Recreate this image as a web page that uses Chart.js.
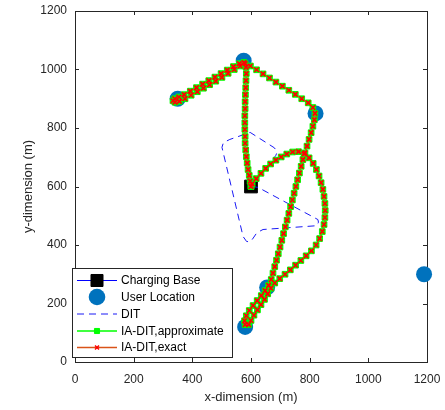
<!DOCTYPE html>
<html>
<head>
<meta charset="utf-8">
<script src="https://cdn.jsdelivr.net/npm/chart.js@4.4.1/dist/chart.umd.min.js"></script>
<style>
  body { margin: 0; background: #fff; }
  #wrap { width: 445px; height: 410px; }
</style>
</head>
<body>
<div id="wrap"><canvas id="trajChart" width="445" height="410"></canvas></div>
<script>
// axis ticks (both axes)
const tickValues = [0, 200, 400, 600, 800, 1000, 1200];

// charging base
const baseX = [600];
const baseY = [600];

// user locations
const userX = [575, 350, 820, 655, 580, 1190];
const userY = [1030, 900, 850, 255, 120, 300];

// DIT trajectory (dashed)
const ditX = [600, 624, 828, 830, 825, 641, 620, 605, 597, 585, 573, 501, 506, 528, 597, 680, 689, 684, 665, 600];
const ditY = [600, 597, 487, 478, 466, 453, 442, 420, 411, 412, 429, 734, 750, 761, 785, 732, 717, 705, 682, 600];

// IA-DIT trajectory (approximate and exact coincide in the figure)
const iaX = [
  600, 597, 594, 590, 587, 584, 582, 580, 580, 579, 579, 579, 580, 580, 581, 582, 583, 584, 583, 576,
  560, 540, 519, 498, 477, 456, 435, 414, 393, 372, 354, 340, 334, 341, 356,
  375, 396, 417, 438, 459, 480, 501, 522, 543, 563, 580,
  598, 619, 641, 663, 685, 707, 729, 751, 773, 795, 811, 818, 816, 811,
  805, 798, 791, 784, 777, 771, 765, 759, 753, 747, 741, 735, 729, 723, 717, 711, 705, 699, 693, 687,
  681, 675, 669, 660, 648, 635, 621, 607, 594, 584, 578, 580, 592,
  600, 610, 622, 634, 646, 657, 668, 681, 698, 716, 734, 752, 770, 788, 806, 822, 834, 843, 849, 852,
  853, 852, 849, 845, 839, 832, 823, 812, 798, 781, 762, 742, 722, 703, 685, 667, 650, 634, 618, 604, 600
];
const iaY = [
  600, 618, 638, 658, 680, 702, 725, 748, 771, 795, 818, 842, 866, 890, 914, 938, 962, 986, 1008, 1024,
  1020, 1010, 998, 986, 974, 962, 950, 938, 926, 914, 906, 900, 893, 888, 891,
  900, 912, 924, 936, 948, 960, 973, 987, 1000, 1012, 1020,
  1012, 999, 985, 971, 957, 943, 929, 915, 900, 886, 870, 850, 828, 806,
  784, 761, 738, 715, 692, 669, 646, 623, 600, 577, 554, 531, 508, 485, 462, 439, 416, 393, 370, 348,
  326, 304, 282, 262, 244, 227, 210, 193, 176, 158, 141, 128, 128,
  142, 160, 178, 196, 214, 233, 252, 270, 285, 300, 315, 331, 347, 363, 380, 400, 422, 446, 470, 494,
  518, 542, 566, 590, 613, 636, 658, 679, 698, 712, 719, 718, 711, 701, 690, 677, 662, 645, 627, 609, 600
];

const pts = (xs, ys) => xs.map((x, i) => ({ x: x, y: ys[i] }));

const FONT = '"Liberation Sans", Arial, sans-serif';
const AXIS_COLOR = '#262626';

// frame + inward ticks like matlab's box on
const framePlugin = {
  id: 'frameTicks',
  beforeDatasetsDraw(chart) {
    const { ctx, chartArea: a, scales } = chart;
    ctx.save();
    ctx.strokeStyle = AXIS_COLOR;
    ctx.lineWidth = 1;
    ctx.strokeRect(Math.round(a.left) + 0.5, Math.round(a.top) + 0.5, Math.round(a.right - a.left), Math.round(a.bottom - a.top));
    ctx.beginPath();
    tickValues.forEach(v => {
      const px = Math.round(scales.x.getPixelForValue(v)) + 0.5;
      ctx.moveTo(px, a.bottom); ctx.lineTo(px, a.bottom - 4);
      ctx.moveTo(px, a.top); ctx.lineTo(px, a.top + 4);
      const py = Math.round(scales.y.getPixelForValue(v)) + 0.5;
      ctx.moveTo(a.left, py); ctx.lineTo(a.left + 4, py);
      ctx.moveTo(a.right, py); ctx.lineTo(a.right - 4, py);
    });
    ctx.stroke();
    ctx.restore();
  }
};

// legend box inside the axes, lower left
const legendPlugin = {
  id: 'boxLegend',
  afterDraw(chart) {
    const ctx = chart.ctx;
    const sets = chart.data.datasets;
    const rows = [280.5, 297, 314, 331, 347.5];
    ctx.save();
    ctx.fillStyle = '#fff';
    ctx.fillRect(72.5, 268.5, 160, 89);
    ctx.strokeStyle = AXIS_COLOR;
    ctx.lineWidth = 1;
    ctx.strokeRect(72.5, 268.5, 160, 89);
    sets.forEach((ds, i) => {
      const y = rows[i];
      const lg = ds.legendLine;
      if (lg) {
        ctx.save();
        ctx.strokeStyle = lg.color;
        ctx.lineWidth = lg.width;
        ctx.setLineDash(lg.dash || []);
        ctx.beginPath();
        ctx.moveTo(77, y); ctx.lineTo(117, y);
        ctx.stroke();
        ctx.restore();
      }
      const lm = ds.legendMarker;
      if (lm) {
        ctx.fillStyle = lm.fill;
        ctx.strokeStyle = lm.stroke;
        ctx.lineWidth = lm.bw;
        Chart.helpers.drawPoint(ctx, { pointStyle: lm.style, radius: lm.r, rotation: 0, borderWidth: lm.bw }, 97, y);
      }
      ctx.fillStyle = '#000';
      ctx.font = '12px ' + FONT;
      ctx.textAlign = 'left';
      ctx.textBaseline = 'middle';
      ctx.fillText(ds.label, 121, y + 0.5);
    });
    ctx.restore();
  }
};

const ctx = document.getElementById('trajChart').getContext('2d');
new Chart(ctx, {
  type: 'scatter',
  data: {
    datasets: [
      {
        label: 'Charging Base',
        data: pts(baseX, baseY),
        pointStyle: 'rect', pointRadius: 9, backgroundColor: '#000', borderColor: '#000', pointBorderWidth: 1,
        showLine: false, order: 5,
        legendLine: { color: '#0000FF', width: 1 },
        legendMarker: { style: 'rect', r: 8.5, fill: '#000', stroke: '#000', bw: 1 }
      },
      {
        label: 'User Location',
        data: pts(userX, userY),
        pointStyle: 'circle', pointRadius: 8, backgroundColor: '#0072BD', borderColor: '#0072BD', pointBorderWidth: 0,
        showLine: false, order: 4, clip: false,
        legendMarker: { style: 'circle', r: 8.3, fill: '#0072BD', stroke: '#0072BD', bw: 0 }
      },
      {
        label: 'DIT',
        data: pts(ditX, ditY),
        showLine: true, borderColor: '#1A1AF5', borderWidth: 1, borderDash: [7, 5],
        pointRadius: 0, order: 3,
        legendLine: { color: '#1A1AF5', width: 1, dash: [7, 5] }
      },
      {
        label: 'IA-DIT,approximate',
        data: pts(iaX, iaY),
        showLine: true, borderColor: '#00FF00', borderWidth: 1.5,
        pointStyle: 'rect', pointRadius: 4, backgroundColor: '#00FF00', pointBorderColor: '#00FF00', pointBorderWidth: 1,
        order: 2,
        legendLine: { color: '#00FF00', width: 1.5 },
        legendMarker: { style: 'rect', r: 3.6, fill: '#00FF00', stroke: '#00FF00', bw: 1 }
      },
      {
        label: 'IA-DIT,exact',
        data: pts(iaX, iaY),
        showLine: true, borderColor: '#D95319', borderWidth: 1,
        pointStyle: 'crossRot', pointRadius: 3.2, pointBorderColor: '#FF0000', pointBorderWidth: 1.6,
        order: 1,
        legendLine: { color: '#D95319', width: 1.5 },
        legendMarker: { style: 'crossRot', r: 2.8, fill: '#FF0000', stroke: '#FF0000', bw: 1.5 }
      }
    ]
  },
  options: {
    responsive: false,
    animation: false,
    devicePixelRatio: 1,
    events: [],
    layout: { padding: { top: 11, right: 18, left: 0, bottom: 0 } },
    plugins: {
      legend: { display: false },
      tooltip: { enabled: false }
    },
    scales: {
      x: {
        type: 'linear', min: 0, max: 1200,
        afterBuildTicks: s => { s.ticks = tickValues.map(v => ({ value: v })); },
        afterFit: s => { s.height = 48; },
        grid: { display: false },
        border: { display: false },
        ticks: { color: AXIS_COLOR, font: { family: FONT, size: 12 }, padding: 2, maxRotation: 0, callback: v => String(v) },
        title: { display: true, text: 'x-dimension (m)', color: AXIS_COLOR, font: { family: FONT, size: 13 }, padding: { top: 5, bottom: 5 } }
      },
      y: {
        type: 'linear', min: 0, max: 1200,
        afterBuildTicks: s => { s.ticks = tickValues.map(v => ({ value: v })); },
        afterFit: s => { s.width = 75; },
        grid: { display: false },
        border: { display: false },
        ticks: { color: AXIS_COLOR, font: { family: FONT, size: 12 }, padding: 0, callback: v => String(v) },
        title: { display: true, text: 'y-dimension (m)', color: AXIS_COLOR, font: { family: FONT, size: 13 }, padding: { top: 21, bottom: 21 } }
      }
    }
  },
  plugins: [framePlugin, legendPlugin]
});
</script>
</body>
</html>
